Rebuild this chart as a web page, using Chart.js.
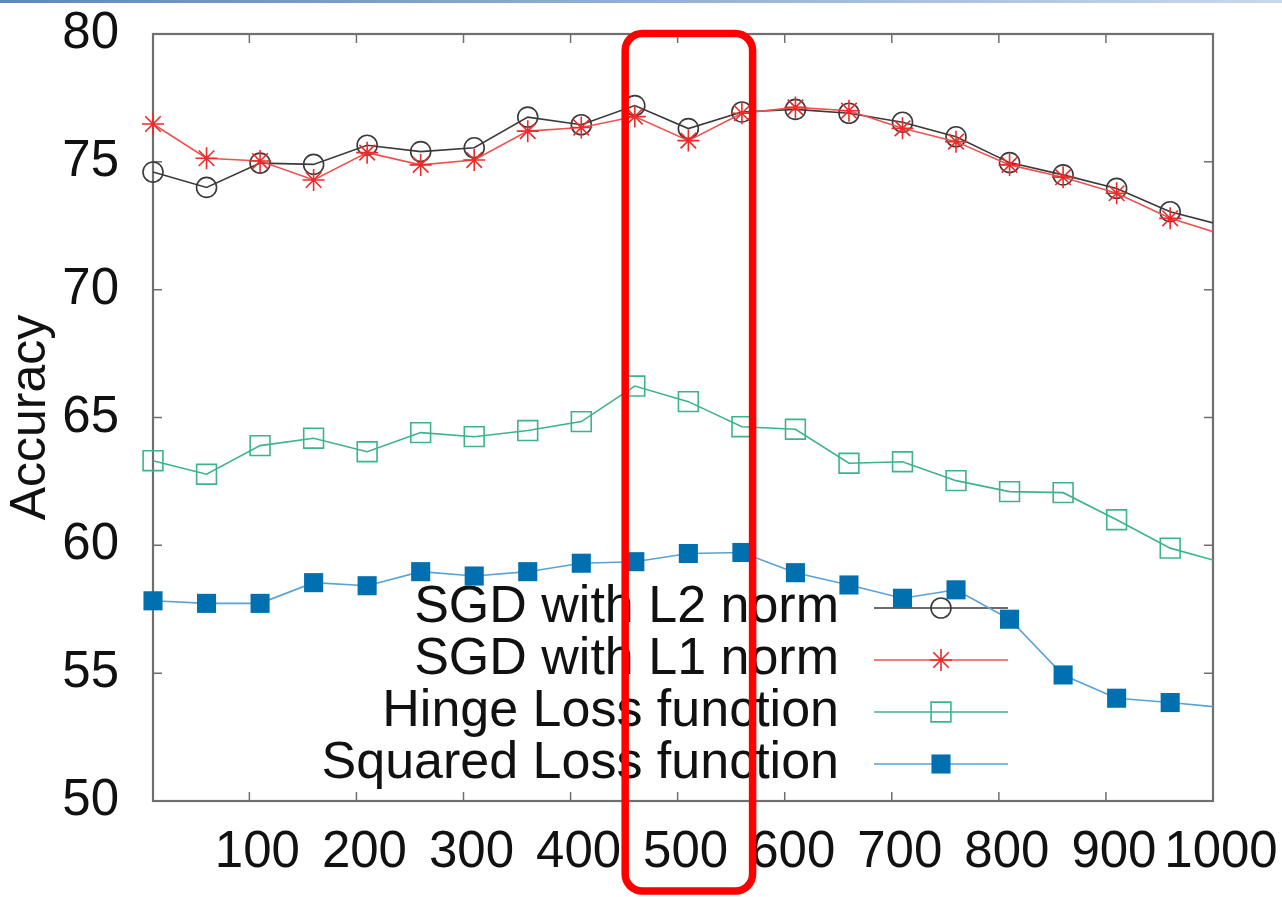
<!DOCTYPE html>
<html>
<head>
<meta charset="utf-8">
<title>Accuracy vs. iterations</title>
<script src="https://cdn.jsdelivr.net/npm/chart.js@4.4.1/dist/chart.umd.min.js"></script>
<style>
  html, body { margin: 0; padding: 0; background: #ffffff; }
  #wrap { width: 1282px; height: 897px; position: relative; }
</style>
</head>
<body>
<div id="wrap"><canvas id="c" width="1282" height="897"></canvas></div>
<script>
// x positions of the measurements (the last one lies past the axis end and is clipped)
const xValues = [10, 60, 110, 160, 210, 260, 310, 360, 410, 460, 510, 560, 610, 660, 710, 760, 810, 860, 910, 960, 1010];

// accuracy per series
const sgdL2   = [74.6, 74.0, 74.95, 74.9, 75.65, 75.4, 75.55, 76.75, 76.45, 77.2, 76.3, 76.95, 77.05, 76.9, 76.55, 75.98, 74.97, 74.49, 73.96, 73.05, 72.5];
const sgdL1   = [76.48, 75.14, 75.03, 74.29, 75.36, 74.88, 75.07, 76.2, 76.34, 76.77, 75.83, 76.9, 77.13, 77.0, 76.31, 75.79, 74.88, 74.4, 73.77, 72.79, 72.14];
const hinge   = [63.31, 62.78, 63.9, 64.19, 63.66, 64.41, 64.25, 64.49, 64.84, 66.23, 65.62, 64.64, 64.54, 63.21, 63.27, 62.53, 62.1, 62.06, 61.0, 59.89, 59.31];
const squared = [57.83, 57.73, 57.73, 58.54, 58.42, 58.97, 58.8, 58.97, 59.3, 59.36, 59.68, 59.72, 58.93, 58.45, 57.93, 58.26, 57.11, 54.93, 54.02, 53.85, 53.65];

const seriesLabels = ['SGD with L2 norm', 'SGD with L1 norm', 'Hinge Loss function', 'Squared Loss function'];

// axis ticks
const xTicks = [100, 200, 300, 400, 500, 600, 700, 800, 900, 1000];
const yTicks = [50, 55, 60, 65, 70, 75, 80];
const yTitle = 'Accuracy';

// highlighted x band
const bandFrom = 451;
const bandTo = 570;

const FONT = "'Liberation Sans', Arial, Helvetica, sans-serif";

function pts(ys) { return ys.map((y, i) => ({ x: xValues[i], y })); }

function noScalePadding(s) {
  s.paddingTop = 0; s.paddingBottom = 0; s.paddingLeft = 0; s.paddingRight = 0;
}

// inward gnuplot-style ticks and frame
const framePlugin = {
  id: 'frame',
  beforeDatasetsDraw(chart) {
    const { ctx, chartArea: a } = chart;
    const xs = chart.scales.x, ys = chart.scales.y;
    ctx.save();
    ctx.strokeStyle = '#6f6f6f';
    ctx.lineWidth = 1.5;
    const tl = 9;
    ctx.beginPath();
    xTicks.forEach(v => {
      const px = xs.getPixelForValue(v);
      ctx.moveTo(px, a.bottom); ctx.lineTo(px, a.bottom - tl);
      ctx.moveTo(px, a.top); ctx.lineTo(px, a.top + tl);
    });
    yTicks.forEach(v => {
      const py = ys.getPixelForValue(v);
      ctx.moveTo(a.left, py); ctx.lineTo(a.left + tl, py);
      ctx.moveTo(a.right, py); ctx.lineTo(a.right - tl, py);
    });
    ctx.stroke();
    ctx.lineWidth = 2.2;
    ctx.strokeRect(a.left, a.top, a.right - a.left, a.bottom - a.top);
    ctx.restore();
  }
};

// key: right-aligned text followed by a line sample with its marker
const keyPlugin = {
  id: 'key',
  beforeDatasetsDraw(chart) {
    const { ctx } = chart;
    const textRight = 839, lineL = 874, lineR = 1008, top = 608, gap = 52;
    ctx.save();
    chart.data.datasets.forEach((ds, i) => {
      const y = top + i * gap;
      ctx.font = '52px ' + FONT;
      ctx.fillStyle = '#111';
      ctx.textAlign = 'right';
      ctx.textBaseline = 'middle';
      ctx.fillText(ds.label, textRight, y);
      ctx.strokeStyle = ds.borderColor;
      ctx.lineWidth = ds.borderWidth;
      ctx.beginPath(); ctx.moveTo(lineL, y); ctx.lineTo(lineR, y); ctx.stroke();
      ctx.strokeStyle = ds.pointBorderColor;
      ctx.fillStyle = ds.pointBackgroundColor;
      Chart.helpers.drawPoint(ctx, {
        pointStyle: ds.pointStyle, rotation: 0,
        radius: ds.pointRadius, borderWidth: ds.pointBorderWidth
      }, (lineL + lineR) / 2, y);
    });
    ctx.restore();
  }
};

// page header rule and the red band marker
const decorPlugin = {
  id: 'decor',
  beforeDraw(chart) {
    const { ctx, width } = chart;
    ctx.save();
    ctx.fillStyle = '#ffffff';
    ctx.fillRect(0, 0, width, chart.height);
    const g = ctx.createLinearGradient(0, 0, width, 0);
    g.addColorStop(0, 'rgb(95,135,190)');
    g.addColorStop(1, 'rgb(200,215,235)');
    ctx.fillStyle = g;
    ctx.fillRect(0, 0, width, 3);
    ctx.restore();
  },
  afterDraw(chart) {
    const { ctx } = chart;
    const xs = chart.scales.x;
    const l = xs.getPixelForValue(bandFrom), r = xs.getPixelForValue(bandTo);
    const t = 33.5, b = 891;
    ctx.save();
    ctx.strokeStyle = '#ff0000';
    ctx.lineWidth = 7.5;
    ctx.beginPath();
    ctx.roundRect(l, t, r - l, b - t, 17);
    ctx.stroke();
    ctx.restore();
  }
};

const datasets = [
  {
    label: seriesLabels[0], data: pts(sgdL2), order: 4,
    borderColor: '#3a3a3a', borderWidth: 1.6,
    pointStyle: 'circle', pointRadius: 10, pointBorderWidth: 1.6,
    pointBorderColor: '#3a3a3a', pointBackgroundColor: 'rgba(0,0,0,0)'
  },
  {
    label: seriesLabels[1], data: pts(sgdL1), order: 3,
    borderColor: '#f05050', borderWidth: 1.6,
    pointStyle: 'star', pointRadius: 11, pointBorderWidth: 1.6,
    pointBorderColor: '#ee2a2a', pointBackgroundColor: 'rgba(0,0,0,0)'
  },
  {
    label: seriesLabels[2], data: pts(hinge), order: 2,
    borderColor: '#3cb48a', borderWidth: 1.6,
    pointStyle: 'rect', pointRadius: 14, pointBorderWidth: 1.6,
    pointBorderColor: '#3cb48a', pointBackgroundColor: 'rgba(0,0,0,0)'
  },
  {
    label: seriesLabels[3], data: pts(squared), order: 1,
    borderColor: '#5aa2d6', borderWidth: 1.6,
    pointStyle: 'rect', pointRadius: 13.5, pointBorderWidth: 0,
    pointBorderColor: '#0070b0', pointBackgroundColor: '#0070b0'
  }
];
datasets.forEach(d => {
  d.tension = 0;
  d.fill = false;
  d.pointHoverRadius = d.pointRadius;
  d.clip = { left: false, top: false, right: 0, bottom: false };
});

new Chart(document.getElementById('c'), {
  type: 'line',
  data: { datasets },
  plugins: [decorPlugin, framePlugin, keyPlugin],
  options: {
    responsive: false,
    animation: false,
    devicePixelRatio: 1,
    layout: { padding: { top: 34, right: 69, left: 0, bottom: 0 } },
    plugins: { legend: { display: false }, tooltip: { enabled: false } },
    scales: {
      x: {
        type: 'linear', min: 10, max: 1000,
        afterBuildTicks: s => { s.ticks = xTicks.map(v => ({ value: v })); },
        afterFit: s => { s.height = 96; noScalePadding(s); },
        grid: { display: false, drawTicks: false },
        border: { display: false },
        ticks: {
          autoSkip: false, maxRotation: 0, minRotation: 0,
          padding: 26, labelOffset: 8, color: '#111',
          font: { family: FONT, size: 51, lineHeight: 1 },
          callback: v => String(v)
        }
      },
      y: {
        type: 'linear', min: 50, max: 80,
        afterBuildTicks: s => { s.ticks = yTicks.map(v => ({ value: v })); },
        afterFit: s => { s.width = 153; noScalePadding(s); },
        grid: { display: false, drawTicks: false },
        border: { display: false },
        ticks: {
          padding: 34, color: '#111',
          font: { family: FONT, size: 51, lineHeight: 1 },
          callback: v => String(v)
        },
        title: {
          display: true, text: yTitle, color: '#111',
          font: { family: FONT, size: 50, lineHeight: 1 },
          padding: { top: 6.5, bottom: 0 }
        }
      }
    }
  }
});
</script>
</body>
</html>
